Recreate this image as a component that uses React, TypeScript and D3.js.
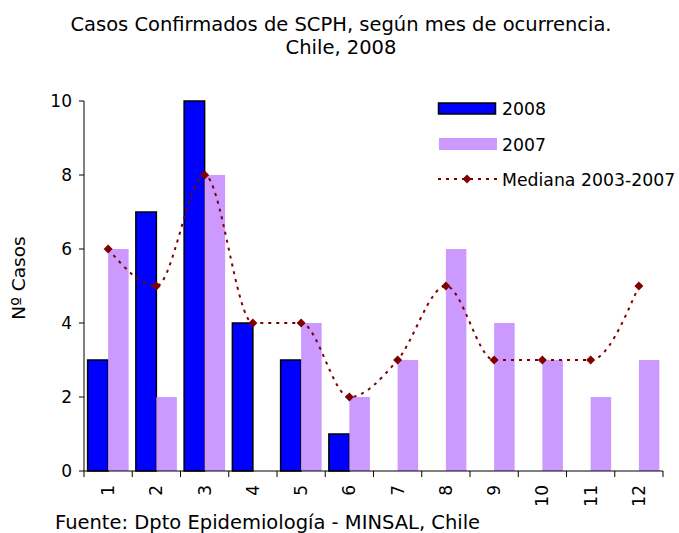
import React from "react";
import * as d3 from "d3";

const months = ["1", "2", "3", "4", "5", "6", "7", "8", "9", "10", "11", "12"];
const cases2008 = [3, 7, 10, 4, 3, 1, 0, 0, 0, 0, 0, 0];
const cases2007 = [6, 2, 8, 0, 4, 2, 3, 6, 4, 3, 2, 3];
const median0307 = [6, 5, 8, 4, 4, 2, 3, 5, 3, 3, 3, 5];
const yTicks = [0, 2, 4, 6, 8, 10];

const W = 679;
const H = 533;
const left = 84;
const right = 663;
const top = 101;
const bottom = 471;
const FONT = "Verdana, 'DejaVu Sans', sans-serif";

export default function App() {
  const x = d3.scaleBand<string>().domain(months).range([left, right]).paddingInner(0).paddingOuter(0);
  const y = d3.scaleLinear().domain([0, 10]).range([bottom, top]);
  const bw = x.bandwidth();
  const barW = bw * 0.425;
  const off = (bw - 2 * barW) / 2;
  const line = d3
    .line<number>()
    .x((_, i) => (x(months[i]) as number) + bw / 2)
    .y((d) => y(d))
    .curve(d3.curveMonotoneX);

  const diamond = (cx: number, cy: number, r = 4.5) =>
    `M${cx},${cy - r}L${cx + r},${cy}L${cx},${cy + r}L${cx - r},${cy}Z`;

  return (
    <svg width={W} height={H} style={{ position: "absolute", left: 0, top: 0, background: "#fff" }} fontFamily={FONT}>
      <text x={341} y={31} textAnchor="middle" fontSize={19.5}>
        Casos Confirmados de SCPH, según mes de ocurrencia.
      </text>
      <text x={341} y={54} textAnchor="middle" fontSize={19.5}>
        Chile, 2008
      </text>

      {months.map((m, i) => (
        <g key={m}>
          {cases2008[i] > 0 && (
            <rect
              x={(x(m) as number) + off}
              y={y(cases2008[i])}
              width={barW}
              height={bottom - y(cases2008[i])}
              fill="#0000FF"
              stroke="#000"
              strokeWidth={1.5}
            />
          )}
          {cases2007[i] > 0 && (
            <rect
              x={(x(m) as number) + off + barW}
              y={y(cases2007[i])}
              width={barW}
              height={bottom - y(cases2007[i])}
              fill="#CC99FF"
            />
          )}
        </g>
      ))}

      <path d={line(median0307) || ""} fill="none" stroke="#800000" strokeWidth={2} strokeDasharray="3,5" />
      {median0307.map((v, i) => (
        <path key={i} d={diamond((x(months[i]) as number) + bw / 2, y(v))} fill="#800000" />
      ))}

      {/* axes */}
      <line x1={left} x2={left} y1={top} y2={bottom} stroke="#000" strokeWidth={1} />
      {yTicks.map((t) => (
        <g key={t}>
          <line x1={left - 5} x2={left} y1={y(t)} y2={y(t)} stroke="#000" />
          <text x={left - 12} y={y(t) + 6} textAnchor="end" fontSize={17}>
            {t}
          </text>
        </g>
      ))}
      <line x1={left} x2={right} y1={bottom} y2={bottom} stroke="#000" strokeWidth={1.2} />
      {months.concat(["end"]).map((m, i) => {
        const xx = left + i * bw;
        return <line key={"t" + i} x1={xx} x2={xx} y1={bottom} y2={bottom + 6} stroke="#000" />;
      })}
      {months.map((m) => {
        const cx = (x(m) as number) + bw / 2;
        return (
          <text
            key={"l" + m}
            transform={`translate(${cx + 6},${bottom + 14}) rotate(-90)`}
            textAnchor="end"
            fontSize={17}
          >
            {m}
          </text>
        );
      })}

      <text transform={`translate(25,278) rotate(-90)`} textAnchor="middle" fontSize={18.5}>
        Nº Casos
      </text>

      <text x={55} y={529} fontSize={19.5}>
        Fuente: Dpto Epidemiología - MINSAL, Chile
      </text>

      {/* legend */}
      <rect x={438.5} y={103} width={57} height={11} fill="#0000FF" stroke="#000" strokeWidth={1.5} />
      <text x={502} y={115} fontSize={17.3}>2008</text>
      <rect x={439} y={138} width={58} height={12} fill="#CC99FF" />
      <text x={502} y={151} fontSize={17.3}>2007</text>
      <line x1={438} x2={497} y1={179} y2={179} stroke="#800000" strokeWidth={2} strokeDasharray="3,5" />
      <path d={diamond(467, 179)} fill="#800000" />
      <text x={502} y={186} fontSize={17.3}>Mediana 2003-2007</text>
    </svg>
  );
}
